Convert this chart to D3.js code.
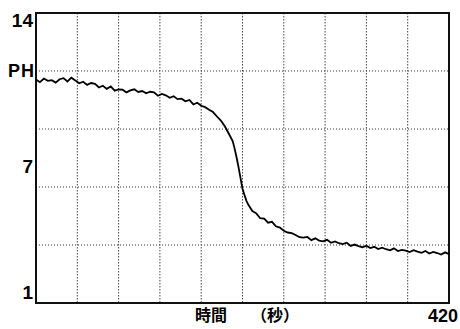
<!DOCTYPE html>
<html>
<head>
<meta charset="utf-8">
<script src="https://cdn.jsdelivr.net/npm/d3@7"></script>
<style>
  html, body { margin: 0; padding: 0; background: #fff; }
  svg { display: block; }
</style>
</head>
<body>
<svg id="chart" width="460" height="329"></svg>
<script>
// ---- data ----
const times = [
  0,4,8,12,16,20,24,28,32,36,40,44,48,52,56,60,64,68,72,76,80,84,88,92,96,100,
  104,108,112,116,120,124,128,132,136,140,144,148,152,156,160,164,168,172,176,180,
  184,188,192,196,200,202,204,206,208,210,212,214,216,220,224,228,232,236,240,244,
  248,252,256,260,264,268,272,276,280,284,288,292,296,300,304,308,312,316,320,324,
  328,332,336,340,344,348,352,356,360,364,368,372,376,380,384,388,392,396,400,404,
  408,412,416,420
];
const phValues = [
  11.02,10.90,11.06,10.96,10.99,10.88,11.03,11.08,10.93,11.10,10.97,10.85,10.92,10.78,10.86,10.82,
  10.66,10.74,10.60,10.71,10.52,10.58,10.56,10.44,10.53,10.58,10.46,10.50,10.40,10.47,10.44,10.29,
  10.37,10.31,10.20,10.27,10.14,10.16,10.04,10.10,9.90,9.98,9.84,9.78,9.66,9.56,9.36,9.18,
  8.92,8.60,8.26,7.92,7.52,7.08,6.60,6.12,5.84,5.58,5.40,5.12,5.02,4.80,4.78,4.60,
  4.64,4.44,4.38,4.24,4.16,4.13,4.05,3.95,3.93,3.96,3.82,3.90,3.80,3.76,3.83,3.70,
  3.76,3.68,3.64,3.70,3.56,3.62,3.55,3.50,3.57,3.46,3.52,3.42,3.48,3.41,3.36,3.45,
  3.33,3.38,3.35,3.28,3.37,3.30,3.25,3.33,3.22,3.29,3.24,3.17,3.27,3.19
];
const xDomain = [0, 420];
const yDomain = [1, 14];
const gridX = [42, 84, 126, 168, 210, 252, 294, 336, 378];
const gridY = [3.6, 6.2, 8.8, 11.4];
const yTickLabels = [
  { v: 1, t: "1" },
  { v: 7, t: "7" },
  { v: 14, t: "14" }
];
const yAxisTitle = "PH";
const xAxisTitle1 = "時間";
const xAxisTitle2 = "（秒）";
const xEndLabel = "420";

// ---- layout ----
const L = 36, T = 13, R = 449, B = 303;
const svg = d3.select("#chart");
const x = d3.scaleLinear().domain(xDomain).range([L, R]);
const y = d3.scaleLinear().domain(yDomain).range([B, T]);

// grid
svg.append("g").selectAll("line").data(gridX).join("line")
  .attr("x1", d => x(d)).attr("x2", d => x(d))
  .attr("y1", T).attr("y2", B)
  .attr("stroke", "#444").attr("stroke-width", 1)
  .attr("stroke-dasharray", "1.5,1.5");
svg.append("g").selectAll("line").data(gridY).join("line")
  .attr("x1", L).attr("x2", R)
  .attr("y1", d => y(d)).attr("y2", d => y(d))
  .attr("stroke", "#333").attr("stroke-width", 1)
  .attr("stroke-dasharray", "1,2");

// frame
svg.append("rect")
  .attr("x", L).attr("y", T).attr("width", R - L).attr("height", B - T)
  .attr("fill", "none").attr("stroke", "#111").attr("stroke-width", 2);

// curve
const data = times.map((t, i) => [t, phValues[i]]);
svg.append("path")
  .datum(data)
  .attr("fill", "none")
  .attr("stroke", "#000")
  .attr("stroke-width", 1.8)
  .attr("stroke-linejoin", "miter")
  .attr("d", d3.line().x(d => x(d[0])).y(d => y(d[1])));

// labels
const fontNum = "'Liberation Sans', Arial, sans-serif";
svg.append("g").selectAll("text").data(yTickLabels).join("text")
  .attr("x", 33)
  .attr("y", d => d.v === 14 ? y(d.v) + 14 : (d.v === 1 ? y(d.v) - 4 : y(d.v) + 4))
  .attr("text-anchor", "end")
  .attr("font-family", fontNum)
  .attr("font-weight", "bold")
  .attr("font-size", 19)
  .attr("fill", "#000")
  .text(d => d.t);

svg.append("text")
  .attr("x", 35).attr("y", y(11.4) + 6)
  .attr("text-anchor", "end")
  .attr("font-family", fontNum)
  .attr("font-weight", "bold")
  .attr("font-size", 18)
  .attr("letter-spacing", 1)
  .text(yAxisTitle);

svg.append("text")
  .attr("x", 458).attr("y", 322)
  .attr("text-anchor", "end")
  .attr("font-family", fontNum)
  .attr("font-weight", "bold")
  .attr("font-size", 18)
  .text(xEndLabel);

const cjk = "'Noto Sans CJK JP', 'Noto Sans CJK SC', sans-serif";
svg.append("text")
  .attr("x", 195).attr("y", 321)
  .attr("font-family", cjk)
  .attr("font-weight", "bold")
  .attr("font-size", 16)
  .text(xAxisTitle1);
svg.append("text")
  .attr("x", 251).attr("y", 321)
  .attr("font-family", cjk)
  .attr("font-weight", "bold")
  .attr("font-size", 16)
  .text(xAxisTitle2);
</script>
</body>
</html>
